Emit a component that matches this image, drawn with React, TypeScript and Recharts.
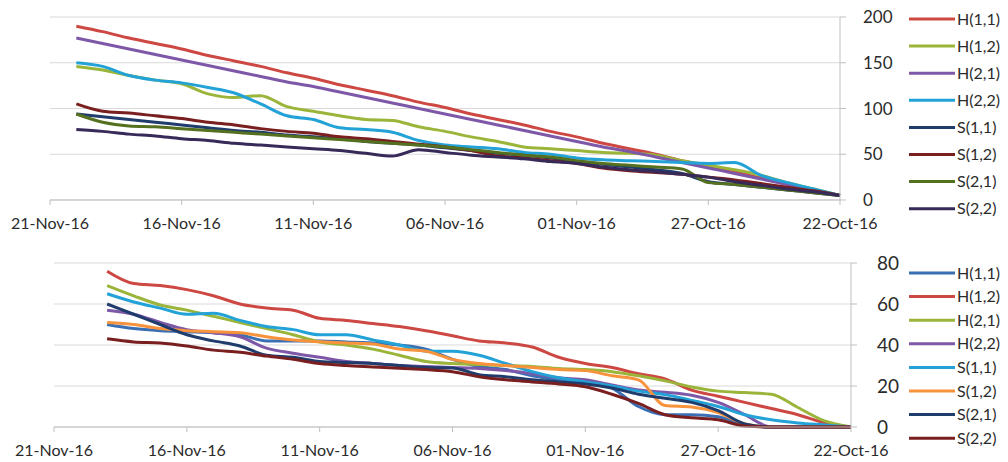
import { CartesianGrid, Line, LineChart, XAxis, YAxis } from 'recharts';

// Dates run backwards, left to right
const dates = [
  '21-Nov-16', '20-Nov-16', '19-Nov-16', '18-Nov-16', '17-Nov-16', '16-Nov-16',
  '15-Nov-16', '14-Nov-16', '13-Nov-16', '12-Nov-16', '11-Nov-16', '10-Nov-16',
  '09-Nov-16', '08-Nov-16', '07-Nov-16', '06-Nov-16', '05-Nov-16', '04-Nov-16',
  '03-Nov-16', '02-Nov-16', '01-Nov-16', '31-Oct-16', '30-Oct-16', '29-Oct-16',
  '28-Oct-16', '27-Oct-16', '26-Oct-16', '25-Oct-16', '24-Oct-16', '23-Oct-16',
  '22-Oct-16',
];

const seriesNames = ['H(1,1)', 'H(1,2)', 'H(2,1)', 'H(2,2)', 'S(1,1)', 'S(1,2)', 'S(2,1)', 'S(2,2)'];

// upper panel
const upperH11 = [null, 190, 184, 177, 171, 165, 158, 152, 146, 139, 133, 126, 120, 114, 107, 101, 94, 88, 82, 75, 69, 62, 56, 50, 43, 37, 31, 24, 18, 11, 5];
const upperH12 = [null, 146, 142, 136, 131, 127, 116, 112, 114, 102, 97, 92, 88, 87, 80, 75, 69, 64, 58, 56, 54, 52, 51, 49, 43, 38, 33, 27, 19, 12, 5];
const upperH21 = [null, 177, 171, 165, 159, 153, 147, 141, 135, 129, 124, 118, 112, 106, 100, 94, 88, 82, 76, 70, 64, 58, 53, 47, 41, 35, 29, 23, 17, 11, 5];
const upperH22 = [null, 150, 146, 136, 131, 128, 123, 117, 105, 92, 88, 79, 77, 74, 65, 60, 58, 56, 52, 50, 46, 44, 43, 42, 41, 40, 41, 27, 19, 12, 5];
const upperS11 = [null, 94, 91, 88, 85, 82, 79, 76, 74, 71, 69, 67, 64, 62, 60, 57, 54, 51, 49, 46, 42, 39, 36, 33, 29, 20, 17, 14, 11, 8, 5];
const upperS12 = [null, 105, 97, 95, 92, 89, 85, 82, 78, 75, 73, 69, 67, 64, 61, 58, 54, 48, 46, 43, 40, 35, 32, 30, 28, 25, 22, 18, 14, 10, 5];
const upperS21 = [null, 94, 85, 81, 80, 78, 76, 74, 72, 70, 68, 66, 64, 62, 60, 58, 55, 52, 49, 47, 43, 40, 38, 36, 34, 19, 17, 14, 11, 8, 5];
const upperS22 = [null, 77, 75, 72, 70, 67, 65, 62, 60, 58, 56, 54, 51, 48, 55, 52, 49, 47, 45, 42, 40, 36, 33, 31, 28, 25, 20, 16, 12, 9, 5];

// lower panel
const lowerH11 = [null, null, 50, 48, 47, 46.5, 46, 45, 42, 42, 42, 41.5, 41, 40, 38, 33, 29.5, 28, 25, 23, 22, 19, 10, 6, 6, 5, 1, 0, 0, 0, 0];
const lowerH12 = [null, null, 76, 70, 69, 67, 64, 60, 58, 57, 53, 52, 50.5, 49, 47, 44.5, 42, 41, 39, 34, 31, 29, 26, 23.5, 18, 15, 12, 9, 6, 2, 0];
const lowerH21 = [null, null, 69, 64, 59.5, 57, 54, 51, 48, 45, 41.5, 40, 38, 35, 32, 31, 30.5, 30, 29.5, 28.5, 28, 27, 25, 22.5, 19.5, 17.5, 16.8, 16, 9.5, 3, 0];
const lowerH22 = [null, null, 57, 55, 51, 47.5, 46, 44, 38.5, 36, 34, 32, 31, 30, 29.5, 29, 28.5, 27.5, 26, 24, 23, 20.5, 18, 17, 15.5, 12, 6, 0, 0, 0, 0];
const lowerS11 = [null, null, 65, 61, 58, 55, 55.5, 52, 49, 47.5, 45, 45, 42.5, 40, 37, 37, 35, 31, 27, 24, 22, 20, 17.5, 15.8, 13, 10, 6, 3.5, 2, 1, 0];
const lowerS12 = [null, null, 51, 50, 48, 47, 46.5, 46, 44, 42.4, 41.6, 41, 40.5, 38, 37, 33, 31, 30, 29, 28, 27.5, 25, 23, 10.5, 9.8, 7, 1.5, 0, 0, 0, 0];
const lowerS21 = [null, null, 60, 55, 50, 45, 42, 39.5, 35, 34, 32, 31.5, 31, 30, 29, 28.8, 25.5, 24.5, 23, 22, 21, 19, 16, 14, 12, 8, 1.5, 0, 0, 0, 0];
const lowerS22 = [null, null, 43, 41.5, 41, 39.5, 37.5, 36.5, 34.6, 33, 31, 30, 29.3, 28.6, 28, 27, 24.5, 23, 22, 21, 19.6, 16, 11.5, 6, 4.5, 3.5, 0.5, 0, 0, 0, 0];

const upperColors = ['#cd4843', '#9ab53a', '#7e58a8', '#22a2d6', '#1f3c6c', '#7a1f20', '#55701f', '#372a58'];
const lowerColors = ['#3b6fb4', '#cd4843', '#9ab53a', '#7e58a8', '#22a2d6', '#f7933c', '#1f3c6c', '#7a1f20'];

const upperValues = [upperH11, upperH12, upperH21, upperH22, upperS11, upperS12, upperS21, upperS22];
const lowerValues = [lowerH11, lowerH12, lowerH21, lowerH22, lowerS11, lowerS12, lowerS21, lowerS22];

const upperTicks = [0, 50, 100, 150, 200];
const lowerTicks = [0, 20, 40, 60, 80];

const buildRows = (values: (number | null)[][]) =>
  dates.map((date, i) => {
    const row: Record<string, string | number | null> = { date };
    seriesNames.forEach((name, s) => {
      row[name] = values[s][i];
    });
    return row;
  });

const upperRows = buildRows(upperValues);
const lowerRows = buildRows(lowerValues);

const FONT = 'Lato, "Open Sans", sans-serif';
const TEXT = '#2b2b2b';
const AXIS = '#bfbfbf';

type LegendProps = { colors: string[]; top: number; step: number };

function SideLegend({ colors, top, step }: LegendProps) {
  return (
    <svg width={110} height={8 * step + 10} style={{ position: 'absolute', left: 900, top: top - 10 }}>
      {seriesNames.map((name, i) => (
        <g key={name} transform={`translate(0, ${10 + i * step})`}>
          <line x1={9} x2={55} y1={0} y2={0} stroke={colors[i]} strokeWidth={3} />
          <text x={57} y={0} dy="0.35em" fontSize={16} fontFamily={FONT} fill={TEXT}>
            {name}
          </text>
        </g>
      ))}
    </svg>
  );
}

type PanelProps = {
  rows: Record<string, string | number | null>[];
  colors: string[];
  ticks: number[];
  height: number;
  margin: { top: number; right: number; bottom: number; left: number };
  yFontSize: number;
  yTickMargin: number;
};

function Panel({ rows, colors, ticks, height, margin, yFontSize, yTickMargin }: PanelProps) {
  return (
    <LineChart width={1008} height={height} data={rows} margin={margin}>
      <CartesianGrid vertical={false} stroke="#d9d9d9" strokeWidth={1} />
      <XAxis
        dataKey="date"
        interval={4}
        tickSize={5}
        tickMargin={13}
        height={30}
        stroke={AXIS}
        tick={{ fontSize: 16, fontFamily: FONT, fill: TEXT }}
      />
      <YAxis
        orientation="right"
        width={50}
        domain={[ticks[0], ticks[ticks.length - 1]]}
        ticks={ticks}
        tickSize={6}
        tickMargin={yTickMargin}
        stroke={AXIS}
        tick={{ fontSize: yFontSize, fontFamily: FONT, fill: TEXT }}
      />
      {seriesNames.map((name, i) => (
        <Line
          key={name}
          type="monotone"
          dataKey={name}
          stroke={colors[i]}
          strokeWidth={3}
          dot={false}
          activeDot={false}
          isAnimationActive={false}
        />
      ))}
    </LineChart>
  );
}

export default function App() {
  return (
    <div style={{ position: 'absolute', left: 0, top: 0, width: 1008, height: 462, background: '#fff' }}>
      <div style={{ position: 'absolute', left: 0, top: 0 }}>
        <Panel
          rows={upperRows}
          colors={upperColors}
          ticks={upperTicks}
          height={232}
          margin={{ top: 17, right: 118, bottom: 2, left: 50 }}
          yFontSize={17}
          yTickMargin={17}
        />
      </div>
      <SideLegend colors={upperColors} top={19} step={27.1} />
      <div style={{ position: 'absolute', left: 0, top: 232 }}>
        <Panel
          rows={lowerRows}
          colors={lowerColors}
          ticks={lowerTicks}
          height={230}
          margin={{ top: 31, right: 107, bottom: 5, left: 54 }}
          yFontSize={19}
          yTickMargin={20}
        />
      </div>
      <SideLegend colors={lowerColors} top={273} step={23.6} />
    </div>
  );
}
